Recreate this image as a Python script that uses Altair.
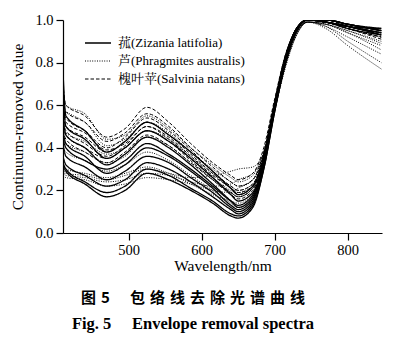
import altair as alt
import pandas as pd

# Wavelength sample points (nm)
WAVELENGTHS = [410, 414, 440, 470, 495, 525, 555, 585, 615, 640, 650, 670, 685, 700, 715, 730, 745, 770, 800, 846]

# 菰 (Zizania latifolia) – solid
ZIZANIA = [
    [0.76, 0.55, 0.48, 0.38, 0.43, 0.52, 0.46, 0.38, 0.29, 0.21, 0.18, 0.22, 0.36, 0.61, 0.83, 0.96, 1.00, 0.99, 0.97, 0.93],
    [0.66, 0.50, 0.44, 0.35, 0.40, 0.48, 0.43, 0.35, 0.26, 0.18, 0.15, 0.19, 0.34, 0.60, 0.83, 0.96, 1.00, 1.00, 0.98, 0.95],
    [0.55, 0.46, 0.40, 0.32, 0.37, 0.45, 0.40, 0.32, 0.23, 0.15, 0.12, 0.17, 0.33, 0.59, 0.82, 0.96, 1.00, 0.99, 0.97, 0.94],
    [0.48, 0.42, 0.36, 0.28, 0.32, 0.40, 0.36, 0.29, 0.21, 0.13, 0.11, 0.16, 0.33, 0.59, 0.82, 0.96, 1.00, 1.00, 0.98, 0.96],
    [0.42, 0.36, 0.31, 0.25, 0.29, 0.36, 0.33, 0.26, 0.19, 0.12, 0.10, 0.15, 0.32, 0.58, 0.81, 0.95, 1.00, 0.99, 0.97, 0.94],
    [0.36, 0.32, 0.27, 0.22, 0.25, 0.33, 0.30, 0.24, 0.17, 0.11, 0.09, 0.14, 0.31, 0.58, 0.81, 0.95, 1.00, 1.00, 0.98, 0.95],
    [0.33, 0.30, 0.24, 0.19, 0.22, 0.30, 0.27, 0.21, 0.15, 0.09, 0.08, 0.13, 0.30, 0.57, 0.80, 0.95, 1.00, 0.99, 0.97, 0.96],
    [0.31, 0.29, 0.23, 0.17, 0.20, 0.28, 0.25, 0.20, 0.14, 0.08, 0.07, 0.12, 0.30, 0.57, 0.80, 0.95, 1.00, 1.00, 0.98, 0.95],
    [0.45, 0.40, 0.34, 0.30, 0.34, 0.42, 0.37, 0.30, 0.22, 0.15, 0.13, 0.18, 0.34, 0.60, 0.82, 0.96, 1.00, 0.99, 0.96, 0.93],
]

# 芦 (Phragmites australis) – dotted
PHRAGMITES = [
    [0.64, 0.60, 0.56, 0.44, 0.46, 0.55, 0.49, 0.40, 0.32, 0.26, 0.24, 0.27, 0.38, 0.60, 0.81, 0.94, 0.99, 0.97, 0.92, 0.84],
    [0.58, 0.57, 0.52, 0.41, 0.44, 0.52, 0.47, 0.38, 0.30, 0.24, 0.22, 0.25, 0.37, 0.60, 0.81, 0.94, 0.99, 0.98, 0.94, 0.88],
    [0.50, 0.47, 0.43, 0.37, 0.40, 0.48, 0.44, 0.36, 0.28, 0.22, 0.20, 0.23, 0.36, 0.59, 0.81, 0.95, 0.99, 0.96, 0.88, 0.77],
    [0.45, 0.42, 0.38, 0.33, 0.36, 0.45, 0.41, 0.33, 0.26, 0.20, 0.19, 0.22, 0.35, 0.59, 0.80, 0.94, 0.99, 0.98, 0.95, 0.90],
    [0.30, 0.28, 0.27, 0.25, 0.27, 0.30, 0.28, 0.26, 0.27, 0.29, 0.30, 0.31, 0.38, 0.58, 0.78, 0.93, 0.99, 0.97, 0.90, 0.80],
    [0.29, 0.27, 0.26, 0.24, 0.25, 0.28, 0.27, 0.24, 0.22, 0.23, 0.25, 0.28, 0.37, 0.58, 0.79, 0.93, 0.99, 0.98, 0.94, 0.86],
    [0.32, 0.30, 0.28, 0.26, 0.28, 0.31, 0.28, 0.23, 0.18, 0.15, 0.14, 0.18, 0.33, 0.58, 0.80, 0.94, 0.99, 0.99, 0.96, 0.92],
    [0.40, 0.38, 0.34, 0.29, 0.32, 0.38, 0.34, 0.27, 0.20, 0.14, 0.12, 0.16, 0.32, 0.58, 0.81, 0.95, 1.00, 0.99, 0.97, 0.93],
    [0.27, 0.26, 0.25, 0.22, 0.23, 0.26, 0.25, 0.23, 0.20, 0.19, 0.21, 0.25, 0.36, 0.58, 0.79, 0.93, 0.99, 0.98, 0.95, 0.89],
]

# 槐叶苹 (Salvinia natans) – dashed
SALVINIA = [
    [0.70, 0.60, 0.55, 0.45, 0.49, 0.59, 0.52, 0.42, 0.33, 0.27, 0.25, 0.28, 0.40, 0.63, 0.84, 0.96, 1.00, 0.99, 0.96, 0.92],
    [0.62, 0.57, 0.52, 0.43, 0.47, 0.56, 0.50, 0.40, 0.31, 0.24, 0.22, 0.25, 0.38, 0.62, 0.84, 0.96, 1.00, 0.99, 0.97, 0.93],
    [0.58, 0.54, 0.48, 0.40, 0.45, 0.54, 0.48, 0.39, 0.29, 0.22, 0.20, 0.23, 0.37, 0.61, 0.83, 0.96, 1.00, 1.00, 0.97, 0.94],
    [0.55, 0.50, 0.45, 0.38, 0.43, 0.52, 0.46, 0.37, 0.28, 0.21, 0.19, 0.22, 0.36, 0.61, 0.83, 0.96, 1.00, 0.99, 0.96, 0.91],
    [0.52, 0.48, 0.42, 0.36, 0.41, 0.50, 0.44, 0.35, 0.26, 0.19, 0.17, 0.21, 0.35, 0.60, 0.82, 0.95, 1.00, 1.00, 0.97, 0.93],
    [0.50, 0.46, 0.40, 0.35, 0.40, 0.48, 0.43, 0.34, 0.25, 0.18, 0.16, 0.20, 0.35, 0.60, 0.82, 0.95, 1.00, 0.99, 0.96, 0.92],
    [0.48, 0.44, 0.38, 0.33, 0.38, 0.46, 0.41, 0.33, 0.25, 0.19, 0.17, 0.21, 0.35, 0.60, 0.82, 0.95, 1.00, 0.99, 0.97, 0.94],
    [0.60, 0.52, 0.47, 0.39, 0.42, 0.50, 0.45, 0.36, 0.27, 0.21, 0.18, 0.22, 0.36, 0.61, 0.83, 0.96, 1.00, 1.00, 0.98, 0.95],
]

LEGEND_LABELS = ["菰(Zizania latifolia)", "芦(Phragmites australis)", "槐叶苹(Salvinia natans)"]
CAPTION_CN = "图\u20045\u3000\u2004包\u2004络\u2004线\u2004去\u2004除\u2004光\u2004谱\u2004曲\u2004线"
CAPTION_EN = "Fig. 5\u2003 Envelope removal spectra"

rows = []
for sp, curves in (("Z", ZIZANIA), ("P", PHRAGMITES), ("S", SALVINIA)):
    for i, c in enumerate(curves):
        for w, v in zip(WAVELENGTHS, c):
            rows.append({"wl": w, "val": v, "curve": f"{sp}{i}", "sp": sp})
df = pd.DataFrame(rows)

SERIF = "Liberation Serif"
SERIF_CJK = "Liberation Serif, Noto Serif CJK SC, serif"

x = alt.X("wl:Q", scale=alt.Scale(domain=[410, 847], nice=False, zero=False),
          axis=alt.Axis(values=[500, 600, 700, 800], title="Wavelength/nm", grid=False,
                        tickSize=7, labelPadding=3, titlePadding=2,
                        labelFont=SERIF, titleFont=SERIF))
y = alt.Y("val:Q", scale=alt.Scale(domain=[0, 1], nice=False),
          axis=alt.Axis(values=[0, 0.2, 0.4, 0.6, 0.8, 1.0], format=".1f", grid=False,
                        title="Continuum-removed value", tickSize=7, labelPadding=3, titlePadding=9,
                        labelFont=SERIF, titleFont=SERIF))

base = alt.Chart(df)
styles = {"Z": ([1, 0], 1.3), "P": ([1, 1.4], 1.0), "S": ([3.5, 2], 1.0)}
line_layers = []
for sp, (dash, sw) in styles.items():
    line_layers.append(
        base.transform_filter(alt.datum.sp == sp)
        .mark_line(color="black", strokeDash=dash, strokeWidth=sw, interpolate="monotone", clip=True)
        .encode(x=x, y=y, detail="curve:N")
    )

leg_layers = []
leg_y = [23, 41, 59]
for i, (sp, lbl) in enumerate(zip(["Z", "P", "S"], LEGEND_LABELS)):
    dash, sw = styles[sp]
    d = pd.DataFrame({"label": [lbl]})
    leg_layers.append(
        alt.Chart(d).mark_rule(color="black", strokeDash=dash, strokeWidth=sw)
        .encode(x=alt.value(22), x2=alt.value(48), y=alt.value(leg_y[i]))
    )
    leg_layers.append(
        alt.Chart(d).mark_text(align="left", baseline="middle", font=SERIF_CJK, fontSize=13, color="black")
        .encode(x=alt.value(55), y=alt.value(leg_y[i]), text="label:N")
    )

cap1 = alt.Chart(pd.DataFrame({"t": [CAPTION_CN]})).mark_text(
    align="center", baseline="middle", font="Noto Sans CJK SC", fontWeight="bold", fontSize=15, color="black"
).encode(x=alt.value(130), y=alt.value(278), text="t:N")
cap2 = alt.Chart(pd.DataFrame({"t": [CAPTION_EN]})).mark_text(
    align="center", baseline="middle", font=SERIF, fontWeight="bold", fontSize=16.5, color="black"
).encode(x=alt.value(130), y=alt.value(304), text="t:N")

chart = alt.layer(*line_layers, *leg_layers, cap1, cap2).properties(
    width=319, height=213,
    autosize=alt.AutoSizeParams(type="none"),
    padding={"left": 63, "top": 20, "right": 13, "bottom": 119},
    background="white",
).configure_view(stroke=None).configure_axis(
    labelFontSize=14.5, titleFontSize=15.5,
    titleFontWeight="normal", labelColor="black", titleColor="black",
    domainColor="black", tickColor="black", domainWidth=1.2, tickWidth=1.2,
)

chart.save("out.html", embed_options={"renderer": "svg", "actions": False})
